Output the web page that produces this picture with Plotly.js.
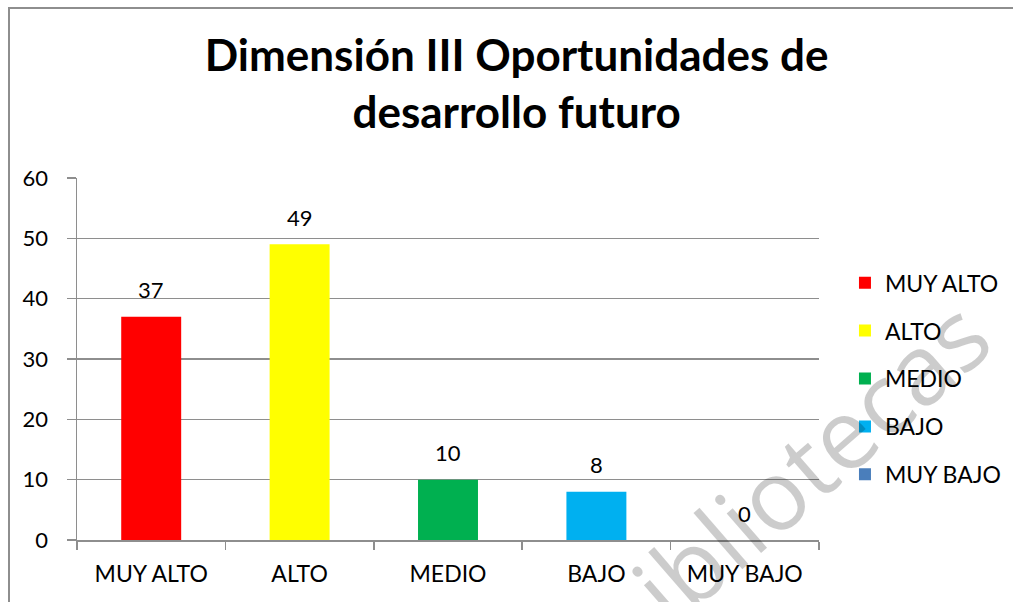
<!DOCTYPE html>
<html>
<head>
<meta charset="utf-8">
<script src="https://cdn.plot.ly/plotly-3.0.1.min.js"></script>
<style>
  html, body { margin: 0; padding: 0; background: #fff; }
  #chart { width: 1013px; height: 602px; }
  #frame { position: absolute; left: 8px; top: 7px; width: 1100px; height: 700px;
           border-left: 2px solid #8e8e8e; border-top: 2px solid #8e8e8e; pointer-events: none; }
</style>
</head>
<body>
<div id="chart"></div>
<div id="frame"></div>
<script>
// Dimensión III — distribución por nivel
const categories = ['MUY ALTO', 'ALTO', 'MEDIO', 'BAJO', 'MUY BAJO'];
const values = [37, 49, 10, 8, 0];
const colors = ['#ff0000', '#ffff00', '#00b050', '#00b0f0', '#4a7ebb'];
const yTicks = [0, 10, 20, 30, 40, 50, 60];

const FONT = 'Lato, "Open Sans", sans-serif';
const GRID = '#8e8e8e';

const traces = categories.map((c, i) => ({
  type: 'bar', x: [c], y: [values[i]], name: c,
  legendgroup: c, marker: { color: colors[i] },
  hoverinfo: 'x+y',
}));

// value labels above each bar
const labels = categories.map((c, i) => ({
  x: c, y: values[i], xref: 'x', yref: 'y', text: String(values[i]),
  showarrow: false, yanchor: 'middle', yshift: 27,
  font: { family: FONT, size: 22, color: '#000' },
}));

// watermark on top
labels.push({
  xref: 'paper', yref: 'paper', x: 0.957, y: 0.165, text: 'bibliotecas',
  xanchor: 'center', yanchor: 'middle',
  showarrow: false, textangle: -41,
  font: { family: 'Open Sans, sans-serif', size: 98, color: 'rgba(0,0,0,0.2)' },
});

const layout = {
  width: 1013, height: 602,
  margin: { l: 77, r: 194, t: 178, b: 62, autoexpand: false },
  paper_bgcolor: '#fff', plot_bgcolor: '#fff',
  font: { family: FONT, size: 23, color: '#000' },
  title: {
    text: '<b>Dimensión III Oportunidades de<br>desarrollo futuro</b>',
    font: { family: FONT, size: 44, color: '#000' },
    x: 0.51, xanchor: 'center', xref: 'container',
    y: 0.882, yanchor: 'top', yref: 'container',
  },
  barmode: 'overlay', bargap: 0.596,
  showlegend: true,
  legend: {
    x: 1.035, xanchor: 'left', y: 0.77, yanchor: 'top',
    font: { family: FONT, size: 23, color: '#000' },
    traceorder: 'grouped', tracegroupgap: 15,
    bgcolor: 'rgba(0,0,0,0)',
  },
  xaxis: {
    type: 'category', categoryorder: 'array', categoryarray: categories,
    showline: true, linecolor: GRID, linewidth: 1.5,
    ticks: 'outside', tickson: 'boundaries', ticklen: 8, tickcolor: GRID, tickwidth: 1.5,
    ticklabelstandoff: 13,
    tickfont: { family: FONT, size: 23, color: '#000' },
    showgrid: false, zeroline: false, fixedrange: true,
  },
  yaxis: {
    range: [0, 60], tickvals: yTicks,
    showline: true, linecolor: GRID, linewidth: 1.5,
    ticks: 'outside', ticklen: 9, tickcolor: GRID, tickwidth: 1.5,
    ticklabelstandoff: 14,
    tickfont: { family: FONT, size: 22, color: '#000' },
    showgrid: true, gridcolor: GRID, gridwidth: 1.3,
    zeroline: false, fixedrange: true,
  },
  annotations: labels,
};

Plotly.newPlot('chart', traces, layout, { displayModeBar: false, staticPlot: true });
</script>
</body>
</html>
